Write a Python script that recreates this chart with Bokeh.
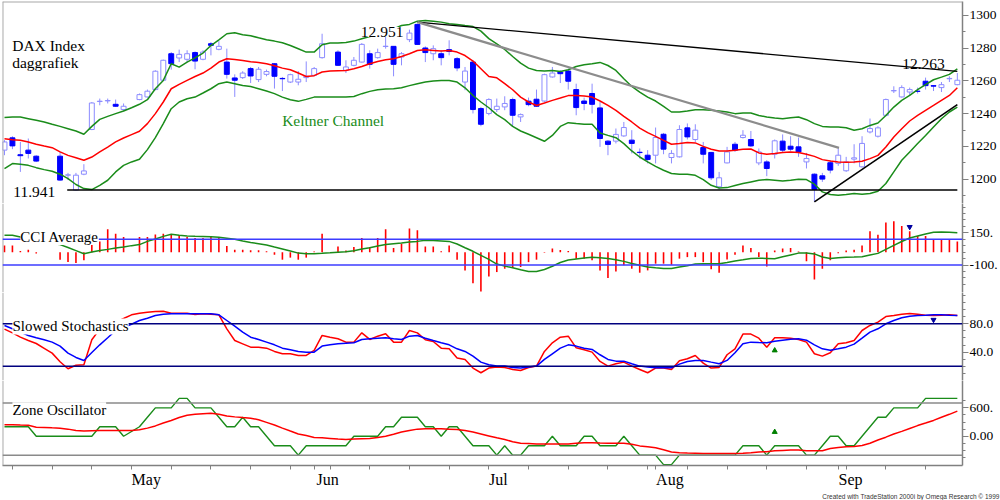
from bokeh.plotting import figure
from bokeh.models import Range1d, FixedTicker, Label, Span, Title
from bokeh.layouts import column
from bokeh.embed import file_html
from bokeh.resources import INLINE

# ---------------- data (one slot per weekday, 7 Apr .. 22 Sep; None = exchange closed) ----------------
opens = [1217.7, 1225.2, 1214.9, 1217.7, 1214.0, None, None, 1214.0, 1202.4, 1193.3,
         1203.0, 1230.3, 1247.4, 1247.8, 1245.7, 1242.5, None, 1248.6, 1250.2, 1254.7,
         1260.4, 1276.6, 1274.0, 1273.2, 1277.3, 1273.2, 1282.7, 1279.3, 1271.5, 1261.8,
         1262.0, 1267.5, 1260.8, 1264.0, 1270.5, 1261.5, 1259.3, 1259.3, 1262.0, 1263.4,
         1274.2, None, 1277.6, 1266.5, 1269.5, 1271.5, 1276.6, 1274.2, 1281.0, 1281.1,
         1274.6, 1285.2, 1294.5, 1280.1, 1276.6, 1276.6, 1279.1, 1273.6, 1259.3, 1271.5,
         1243.1, 1240.1, 1242.5, 1244.1, 1248.6, 1238.0, 1247.6, 1248.8, 1247.7, 1262.4,
         1265.4, 1266.0, 1254.7, 1247.7, 1252.3, 1243.5, 1223.2, 1223.2, 1226.4, 1223.8,
         1216.4, 1214.6, 1214.6, 1227.4, 1213.2, 1213.6, 1231.3, 1224.2, 1219.3, 1216.3,
         1195.3, 1209.9, 1221.3, 1225.4, 1224.2, 1209.9, 1210.5, 1215.2, 1223.2, 1220.1,
         1219.7, 1210.5, 1203.0, 1202.0, 1210.0, 1209.6, 1205.1, 1212.2, 1207.5, 1228.8,
         1226.2, 1239.0, 1253.9, 1250.2, 1253.2, 1253.7, 1259.8, 1257.1, 1255.9, 1261.3,
         1257.7]
highs = [1223.8, 1226.2, 1222.7, 1224.8, 1214.6, None, None, 1216.6, 1203.8, 1203.8,
         1209.1, 1247.1, 1249.2, 1249.2, 1248.6, 1246.2, None, 1252.3, 1254.7, 1266.5,
         1273.0, 1277.6, 1279.1, 1278.7, 1278.0, 1278.7, 1283.7, 1284.3, 1279.7, 1264.0,
         1265.9, 1268.5, 1268.5, 1266.9, 1270.9, 1262.4, 1264.4, 1266.0, 1271.9, 1268.5,
         1288.8, None, 1278.7, 1272.6, 1274.6, 1283.1, 1278.7, 1279.7, 1287.8, 1281.1,
         1277.6, 1291.3, 1295.1, 1281.1, 1281.7, 1278.7, 1284.8, 1274.6, 1268.5, 1272.6,
         1244.1, 1249.4, 1249.2, 1250.6, 1249.8, 1240.1, 1249.8, 1254.7, 1264.4, 1268.5,
         1266.5, 1267.5, 1258.3, 1249.8, 1258.3, 1247.1, 1223.8, 1230.9, 1234.9, 1229.9,
         1218.7, 1217.7, 1231.5, 1228.2, 1217.7, 1232.9, 1234.0, 1233.5, 1222.7, 1216.6,
         1204.4, 1219.7, 1222.7, 1229.9, 1229.4, 1218.7, 1211.6, 1224.2, 1227.3, 1226.2,
         1225.4, 1216.0, 1203.5, 1203.8, 1211.6, 1218.7, 1213.6, 1221.3, 1226.2, 1237.0,
         1232.3, 1249.2, 1256.7, 1257.3, 1255.9, 1255.9, 1262.0, 1257.3, 1259.3, 1262.8,
         1264.8]
lows = [1214.6, 1218.3, 1204.4, 1212.6, 1210.4, None, None, 1199.0, 1199.4, 1192.9,
        1202.4, 1229.9, 1245.1, 1246.2, 1244.1, 1241.6, None, 1248.2, 1249.8, 1254.3,
        1260.4, 1266.9, 1271.5, 1271.5, 1267.1, 1272.6, 1275.6, 1278.7, 1261.4, 1250.2,
        1261.2, 1258.7, 1259.3, 1262.8, 1255.3, 1253.8, 1258.7, 1257.3, 1259.3, 1262.8,
        1273.6, None, 1269.1, 1264.8, 1268.9, 1271.2, 1267.5, 1273.6, 1279.7, 1262.8,
        1269.5, 1283.7, 1282.1, 1271.5, 1272.6, 1269.5, 1275.6, 1265.9, 1254.3, 1240.1,
        1232.3, 1239.0, 1241.0, 1242.1, 1232.3, 1234.9, 1244.5, 1244.1, 1247.1, 1262.0,
        1258.7, 1254.7, 1239.0, 1242.1, 1240.1, 1219.7, 1214.6, 1221.8, 1225.8, 1215.7,
        1212.6, 1209.6, 1209.6, 1215.2, 1209.6, 1213.2, 1224.2, 1222.7, 1209.6, 1199.4,
        1193.7, 1209.6, 1216.6, 1224.8, 1219.7, 1208.5, 1201.8, 1212.6, 1216.0, 1217.2,
        1213.6, 1206.5, 1186.1, 1198.3, 1203.5, 1208.1, 1204.4, 1209.6, 1207.1, 1227.9,
        1225.4, 1238.4, 1252.6, 1249.8, 1251.2, 1252.3, 1254.7, 1253.8, 1253.2, 1259.3,
        1257.3]
closes = [1222.7, 1220.3, 1214.3, 1215.7, 1211.0, None, None, 1199.4, 1202.6, 1202.4,
          1205.0, 1246.5, 1247.6, 1248.0, 1244.5, 1244.5, None, 1251.6, 1253.7, 1265.9,
          1272.6, 1270.5, 1276.2, 1276.6, 1272.1, 1277.6, 1281.7, 1281.1, 1264.0, 1260.4,
          1264.8, 1263.0, 1267.1, 1265.7, 1262.8, 1261.3, 1263.8, 1261.0, 1262.8, 1267.5,
          1282.7, None, 1269.5, 1268.5, 1272.6, 1282.3, 1270.1, 1277.3, 1281.2, 1270.1,
          1276.6, 1289.2, 1282.3, 1277.3, 1279.7, 1274.2, 1278.0, 1267.9, 1266.0, 1242.5,
          1233.5, 1248.6, 1244.5, 1246.2, 1239.0, 1239.4, 1245.5, 1244.5, 1263.8, 1264.8,
          1264.4, 1259.8, 1243.7, 1246.2, 1245.7, 1224.8, 1221.2, 1227.3, 1231.5, 1221.8,
          1216.2, 1212.0, 1225.4, 1218.3, 1215.7, 1230.3, 1225.8, 1229.9, 1215.2, 1200.8,
          1200.8, 1216.6, 1217.7, 1226.8, 1220.3, 1216.6, 1206.5, 1223.4, 1217.7, 1218.3,
          1216.6, 1212.6, 1193.7, 1200.0, 1205.5, 1214.6, 1210.5, 1213.0, 1221.8, 1230.9,
          1231.3, 1248.6, 1254.1, 1255.9, 1254.7, 1253.6, 1257.1, 1256.8, 1257.7, 1261.5,
          1260.4]

kelt_upper = [1237.6, 1237.9, 1237.9, 1236.9, 1235.9, 1234.9, 1233.5, 1232.2, 1230.8, 1229.4,
              1227.4, 1232.2, 1236.5, 1238.3, 1240.0, 1241.6, 1243.6, 1245.7, 1248.5, 1255.2,
              1260.3, 1270.5, 1268.4, 1271.5, 1274.1, 1277.0, 1281.6, 1285.1, 1288.8, 1289.4,
              1288.2, 1287.6, 1286.3, 1285.1, 1284.3, 1283.3, 1281.6, 1279.6, 1277.6, 1277.6,
              1282.1, 1283.1, 1283.1, 1283.5, 1284.3, 1285.7, 1287.1, 1288.2, 1289.8, 1291.8,
              1293.8, 1294.5, 1296.5, 1296.9, 1296.5, 1295.9, 1294.9, 1294.5, 1293.8, 1293.2,
              1290.4, 1285.8, 1282.6, 1279.2, 1274.9, 1270.9, 1267.8, 1266.4, 1266.0, 1266.4,
              1265.8, 1266.8, 1268.8, 1269.9, 1270.5, 1271.3, 1269.4, 1266.4, 1261.3, 1256.6,
              1253.2, 1250.1, 1247.7, 1244.4, 1241.0, 1241.0, 1241.6, 1242.4, 1242.4, 1242.0,
              1241.6, 1241.0, 1240.0, 1240.4, 1240.4, 1238.9, 1237.9, 1237.3, 1236.9, 1237.5,
              1237.9, 1236.3, 1233.9, 1232.2, 1231.8, 1231.8, 1231.4, 1229.8, 1230.8, 1232.8,
              1234.3, 1238.9, 1244.0, 1248.1, 1251.1, 1254.6, 1257.7, 1260.7, 1262.3, 1264.0,
              1267.4]
kelt_mid = [1224.7, 1224.1, 1223.7, 1222.7, 1221.3, 1220.2, 1219.2, 1216.6, 1214.5, 1213.1,
            1211.5, 1213.5, 1216.6, 1219.6, 1222.7, 1225.1, 1227.2, 1229.2, 1233.9, 1240.0,
            1247.1, 1255.2, 1257.9, 1260.3, 1262.7, 1264.8, 1267.8, 1271.5, 1273.5, 1273.1,
            1272.5, 1271.7, 1271.3, 1270.5, 1269.3, 1267.8, 1266.8, 1264.8, 1262.7, 1263.2,
            1265.4, 1266.0, 1266.2, 1266.4, 1267.4, 1268.8, 1270.5, 1271.9, 1272.9, 1273.5,
            1274.9, 1276.6, 1278.6, 1279.0, 1278.6, 1278.2, 1278.6, 1277.6, 1275.5, 1272.1,
            1267.4, 1262.7, 1261.9, 1258.3, 1254.6, 1250.1, 1247.1, 1245.0, 1246.5, 1248.1,
            1249.5, 1251.0, 1251.1, 1250.7, 1250.1, 1247.7, 1245.0, 1242.0, 1238.3, 1234.9,
            1231.2, 1228.4, 1226.1, 1223.7, 1221.3, 1221.7, 1222.3, 1222.1, 1220.0, 1218.2,
            1217.2, 1217.2, 1217.6, 1218.2, 1218.4, 1216.0, 1215.2, 1215.6, 1216.2, 1216.6,
            1216.2, 1215.2, 1213.9, 1211.9, 1211.1, 1210.5, 1210.3, 1210.5, 1210.9, 1212.5,
            1214.5, 1219.6, 1225.7, 1230.8, 1235.5, 1238.9, 1242.0, 1245.0, 1248.1, 1251.1,
            1255.8]
kelt_lower = [1206.4, 1209.5, 1209.1, 1208.4, 1207.0, 1205.8, 1204.8, 1203.0, 1200.3, 1196.7,
              1194.2, 1193.6, 1196.2, 1199.3, 1204.4, 1208.4, 1210.5, 1212.1, 1218.0, 1225.3,
              1233.9, 1243.0, 1247.1, 1249.1, 1250.1, 1252.6, 1255.2, 1258.3, 1259.3, 1258.3,
              1257.2, 1256.6, 1255.2, 1253.8, 1252.2, 1250.1, 1248.5, 1247.5, 1248.7, 1250.1,
              1250.1, 1250.1, 1250.1, 1250.1, 1250.5, 1252.2, 1253.6, 1254.6, 1255.0, 1255.2,
              1255.8, 1257.1, 1258.3, 1259.3, 1259.9, 1260.3, 1260.3, 1259.3, 1255.8, 1251.1,
              1247.1, 1243.6, 1239.4, 1236.3, 1232.2, 1229.4, 1227.4, 1225.3, 1223.1, 1226.7,
              1232.2, 1234.5, 1233.9, 1233.5, 1233.5, 1228.2, 1226.7, 1225.3, 1221.7, 1217.2,
              1213.5, 1210.5, 1207.8, 1205.4, 1203.4, 1203.0, 1203.0, 1202.3, 1199.7, 1196.2,
              1194.6, 1194.8, 1196.1, 1197.3, 1198.3, 1199.3, 1199.7, 1199.3, 1198.9, 1199.3,
              1199.9, 1199.7, 1196.9, 1192.2, 1190.6, 1190.1, 1190.6, 1191.2, 1190.8, 1191.2,
              1192.6, 1197.3, 1204.4, 1211.5, 1216.6, 1221.7, 1226.7, 1231.8, 1236.9, 1241.0,
              1244.0]

# trend lines drawn on the price chart: (start index, start price, end index, end price)
support_line = [7.9, 1193.3, 120.0, 1193.3]
resistance_line = [52.0, 1295.9, 120.0, 1265.8]
down_trend_line = [52.0, 1295.9, 105.1, 1219.1]
up_trend_line = [102.0, 1186.1, 120.0, 1245.5]

cci = [53, 53, 9, 20, -10, None, None, -58, -76, -84,
       -63, 92, 84, 178, 144, 118, None, 118, 118, 137,
       144, 137, 131, 118, 110, 110, 118, 118, 48, 20,
       20, 15, 15, 8, -19, -58, -42, -58, -42, 5,
       144, None, 45, 13, 40, 110, 40, 110, 178, 32,
       66, 183, 170, 45, 45, 8, 53, -58, -141, -240,
       -305, -188, -154, -128, -123, -115, -77, -58, -5, 28,
       18, 10, -50, -50, -63, -141, -201, -149, -102, -128,
       -159, -141, -89, -89, -97, -50, -38, -38, -77, -133,
       -159, -56, -20, 53, 32, -38, -110, 13, 28, 32,
       5, -71, -211, -128, -63, -8, 13, 20, 53, 162,
       136, 230, 240, 204, 162, 126, 126, 100, 100, 100,
       84]
cci_avg = [131, 131, 118, 100, 82, 74, 66, 59, 36, 12,
           -12, 1, 14, 22, 32, 40, 51, 59, 84, 103,
           123, 139, 131, 126, 123, 121, 119, 116, 108, 100,
           87, 76, 66, 56, 40, 25, 9, -7, -12, -12,
           -9, -5, 0, 4, 12, 25, 35, 48, 59, 66,
           71, 79, 84, 92, 90, 87, 84, 64, 35, 7,
           -25, -56, -92, -108, -121, -136, -149, -149, -134, -109,
           -80, -61, -52, -45, -40, -43, -48, -58, -71, -87,
           -101, -115, -121, -126, -127, -115, -105, -92, -90, -90,
           -90, -80, -69, -59, -48, -47, -48, -50, -35, -21,
           -7, -7, -13, -37, -48, -43, -39, -38, -35, -22,
           -9, 22, 53, 83, 110, 126, 142, 155, 157, 155,
           150]

stoch_k = [72.4, 67.2, 61.1, 56.4, 52.2, 45.4, 38.6, 26.4, 16.5, 21.5,
           22.2, 57.4, 72.4, 77.1, 82.3, 87.4, 92.6, 94.9, 96.3, 97.3,
           97.8, 94.9, 94.9, 94.9, 93.1, 94.0, 93.5, 92.6, 72.9, 56.4,
           51.7, 47.0, 47.0, 45.6, 41.0, 37.7, 37.7, 35.3, 35.3, 42.4,
           63.5, 61.1, 58.8, 54.1, 54.1, 67.2, 57.9, 62.5, 65.8, 54.1,
           54.1, 70.5, 67.2, 57.4, 55.0, 45.6, 44.7, 31.6, 29.7, 17.5,
           10.9, 17.5, 18.9, 18.4, 15.6, 14.2, 18.4, 20.3, 41.0, 53.2,
           61.1, 62.5, 46.1, 43.3, 40.0, 26.9, 20.3, 23.6, 25.9, 20.3,
           15.6, 10.9, 17.5, 17.5, 15.6, 27.8, 30.6, 35.3, 24.5, 17.5,
           18.4, 36.3, 44.7, 65.4, 65.4, 59.7, 47.0, 60.2, 60.2, 59.7,
           57.9, 54.1, 37.7, 34.4, 39.1, 51.7, 53.2, 56.4, 70.5, 77.6,
           82.3, 90.2, 91.7, 93.5, 94.5, 93.5, 92.1, 91.7, 92.1, 92.6,
           91.7]
stoch_d = [77.6, 72.9, 68.2, 63.5, 60.2, 57.4, 54.1, 48.5, 38.6, 32.5,
           28.3, 39.5, 50.3, 60.2, 70.5, 75.2, 79.4, 84.6, 87.9, 91.7,
           93.5, 94.0, 94.0, 94.0, 94.0, 94.0, 94.0, 92.6, 84.6, 76.6,
           68.2, 61.1, 57.9, 54.1, 50.3, 45.6, 43.3, 41.0, 40.0, 40.0,
           48.5, 50.3, 51.7, 52.7, 53.2, 57.9, 58.8, 59.7, 60.2, 58.8,
           57.9, 62.5, 63.5, 59.7, 56.4, 53.2, 50.3, 44.7, 41.0, 34.4,
           25.9, 22.2, 20.3, 20.3, 18.4, 17.5, 18.9, 20.3, 29.7, 37.7,
           45.6, 50.3, 48.5, 45.6, 43.8, 36.3, 29.7, 27.3, 27.3, 23.6,
           20.3, 18.9, 17.9, 17.9, 17.9, 23.1, 26.9, 28.3, 28.3, 25.9,
           23.6, 28.3, 39.1, 51.7, 54.1, 53.6, 53.2, 55.5, 56.9, 58.3,
           58.8, 56.9, 50.3, 44.7, 42.8, 44.7, 47.0, 51.3, 59.7, 68.2,
           72.9, 80.0, 84.6, 88.4, 90.7, 91.7, 92.1, 92.6, 92.6, 92.1,
           91.7]

zone = [200, 200, 200, 200, 0, 0, 0, 0, 0, 0,
        0, 0, 200, 200, 200, 0, 100, 200, 400, 600,
        600, 600, 800, 800, 600, 600, 600, 400, 200, 200,
        400, 200, 200, 0, -200, -200, -200, -400, -200, -200,
        -200, -200, -200, -200, 0, 0, 0, 0, 200, 200,
        400, 400, 400, 200, 200, 0, 200, 200, 0, -200,
        -200, -200, -400, -200, -400, -400, -200, -200, -200, 0,
        -200, -200, -200, 0, 0, -200, -200, -200, 0, -200,
        -400, -400, -400, -600, -600, -400, -400, -400, -400, -400,
        -400, -400, -400, -200, -200, -200, -400, -200, -200, -200,
        -200, -400, -400, -200, 0, 0, -200, -200, 0, 200,
        400, 400, 600, 600, 600, 600, 800, 800, 800, 800,
        800]
zone_avg = [245, 245, 238, 232, 191, 184, 177, 171, 150, 123,
            109, 116, 123, 123, 123, 123, 123, 137, 171, 218,
            279, 334, 395, 443, 463, 477, 484, 463, 429, 409,
            395, 382, 348, 293, 238, 171, 109, 48, 14, -27,
            -34, -47, -61, -68, -61, -54, -47, -27, 0, 41,
            89, 123, 150, 157, 157, 157, 150, 143, 123, 89,
            48, 7, -34, -68, -115, -149, -156, -163, -163, -163,
            -163, -163, -149, -136, -136, -143, -149, -149, -149, -170,
            -204, -224, -244, -285, -333, -347, -354, -360, -367, -367,
            -367, -367, -367, -360, -347, -333, -326, -306, -299, -292,
            -292, -306, -306, -306, -258, -237, -224, -217, -197, -149,
            -81, -20, 48, 102, 164, 225, 279, 334, 402, 463,
            531]

# signal arrows: (index, value)
cci_sell_arrow = [114, 196]
stoch_sell_arrow = [117, 85.6]
stoch_buy_arrow = [97, 42.4]
zone_buy_arrow = [97, 90]

month_names = ["May", "Jun", "Jul", "Aug", "Sep"]
month_starts = [16, 39, 61, 82, 105]
week_starts = list(range(1, 121, 5))

price_ticks = [1200, 1220, 1240, 1260, 1280, 1300]
price_labels = ["1200", "1220", "1240", "1260", "1280", "1300"]
cci_ticks = [150, -100]
cci_labels = ["150.", "-100."]
stoch_ticks = [80, 40]
stoch_labels = ["80.0", "40.0"]
zone_ticks = [600, 0]
zone_labels = ["600.", "0.00"]

credit_text = "Created with TradeStation 2000i by Omega Research \u00a9 1999"

# ---------------- styling ----------------
SERIF = "Liberation Serif"
GREEN = "#1a8c1a"
RED = "#ff0000"
BLUE = "#0000ff"
LIGHT = "#8c8cff"
AXIS = "#808080"
W = 1000

n = len(opens)
xr = Range1d(-0.25, 120.65)


def make_fig(h, y0, y1, ticks, labels, minor, top=0, bottom=0, xaxis=False):
    p = figure(width=W, height=h, x_range=xr, y_range=Range1d(y0, y1),
               output_backend="svg", toolbar_location=None,
               y_axis_location="right",
               x_axis_location="below" if xaxis else None,
               min_border_left=2, min_border_right=38,
               min_border_top=top, min_border_bottom=bottom)
    p.title.visible = False
    p.grid.visible = False
    p.outline_line_color = None
    p.background_fill_color = "white"
    p.border_fill_color = "white"
    ax = p.yaxis[0]
    ax.ticker = FixedTicker(ticks=ticks, minor_ticks=minor)
    ax.major_label_overrides = {t: s for t, s in zip(ticks, labels)}
    ax.axis_line_color = AXIS
    ax.axis_line_width = 1.5
    ax.major_tick_line_color = AXIS
    ax.major_tick_out = 6
    ax.major_tick_in = 0
    ax.minor_tick_line_color = AXIS
    ax.minor_tick_out = 3
    ax.minor_tick_in = 0
    ax.major_label_text_font = SERIF
    ax.major_label_text_font_size = "13.5px"
    ax.major_label_text_color = "black"
    ax.major_label_standoff = 1
    p.add_layout(Span(location=-0.22, dimension="height", line_color="#a8a8a8", line_width=1.5))
    return p


def text(p, x, y, s, color="black", align="left", bg=None, size="15px"):
    lab = Label(x=x, y=y, text=s, text_font=SERIF, text_font_size=size,
                text_color=color, text_align=align, text_baseline="alphabetic")
    if bg:
        lab.background_fill_color = bg
        lab.background_fill_alpha = 1.0
    p.add_layout(lab)


# ---------------- price panel ----------------
p1 = make_fig(203, 1185.1, 1308.5, price_ticks, price_labels,
              list(range(1190, 1300, 20)), top=1)
p1.add_layout(Span(location=1308.3, dimension="width", line_color="#a8a8a8", line_width=1.5))

trade = [i for i in range(n) if opens[i] is not None]
up = [i for i in trade if closes[i] >= opens[i]]
dn = [i for i in trade if closes[i] < opens[i]]
p1.segment(x0=trade, y0=[lows[i] for i in trade], x1=trade, y1=[highs[i] for i in trade],
           line_color=LIGHT, line_width=1)
p1.vbar(x=up, width=0.62, bottom=[opens[i] for i in up], top=[closes[i] for i in up],
        fill_color="white", line_color=LIGHT, line_width=1)
p1.vbar(x=dn, width=0.62, bottom=[closes[i] for i in dn], top=[opens[i] for i in dn],
        fill_color=BLUE, line_color=BLUE, line_width=1)

days = list(range(n))
p1.line(days, kelt_upper, line_color=GREEN, line_width=1.5)
p1.line(days, kelt_lower, line_color=GREEN, line_width=1.5)
p1.line(days, kelt_mid, line_color=RED, line_width=1.5)

for seg, col, w in [(support_line, "black", 1.5), (resistance_line, "black", 1.3),
                    (down_trend_line, "#8c8c8c", 2.2), (up_trend_line, "black", 1.6)]:
    p1.line([seg[0], seg[2]], [seg[1], seg[3]], line_color=col, line_width=w)

text(p1, 0.97, 1281.7, "DAX Index", size="15.5px")
text(p1, 0.97, 1271.5, "daggrafiek", size="15.5px")
text(p1, 34.97, 1236.0, "Keltner Channel", color=GREEN, size="15.5px")
text(p1, 50.25, 1289.8, "12.951", align="right", bg="white", size="15.5px")
text(p1, 113.06, 1270.5, "12.263", size="15.5px")
text(p1, 1.1, 1192.2, "11.941", size="15.5px")

# ---------------- CCI panel ----------------
p2 = make_fig(89, -312.5, 377.8, cci_ticks, cci_labels,
              [-250, -200, -150, -50, 0, 50, 100, 200, 250, 300, 350])
p2.add_layout(Span(location=100, dimension="width", line_color="#3c3cff", line_width=1.5))
p2.add_layout(Span(location=-100, dimension="width", line_color="#3c3cff", line_width=1.5))
cx = [i for i in range(n) if cci[i] is not None]
p2.segment(x0=cx, y0=[0] * len(cx), x1=cx, y1=[cci[i] for i in cx], line_color=RED, line_width=1.6)
p2.line(days, cci_avg, line_color=GREEN, line_width=1.5)
p2.scatter([cci_sell_arrow[0]], [cci_sell_arrow[1]], marker="inverted_triangle", size=5,
           color="#0000a0")
text(p2, 2.0, 118, "CCI Average", bg="white")

# ---------------- Stochastics panel ----------------
p3 = make_fig(88, 0, 124.1, stoch_ticks, stoch_labels,
              [0, 10, 20, 30, 50, 60, 70, 90, 100, 110, 120])
p3.add_layout(Span(location=80, dimension="width", line_color="#00007f", line_width=1.5))
p3.add_layout(Span(location=20, dimension="width", line_color="#00007f", line_width=1.5))
p3.line(days, stoch_k, line_color=RED, line_width=1.5)
p3.line(days, stoch_d, line_color=BLUE, line_width=1.5)
p3.scatter([stoch_sell_arrow[0]], [stoch_sell_arrow[1]], marker="inverted_triangle", size=5,
           color="#0000a0")
p3.scatter([stoch_buy_arrow[0]], [stoch_buy_arrow[1]], marker="triangle", size=5, color="#008000")
text(p3, 1.0, 76.2, "Slowed Stochastics", bg="white")

# ---------------- Zone oscillator panel (+ date axis + credit) ----------------
p4 = make_fig(120, -618.4, 1177.6, zone_ticks, zone_labels,
              [-450, -300, -150, 150, 300, 450, 750], bottom=32, xaxis=True)
p4.add_layout(Span(location=700, dimension="width", line_color="#8a8a8a", line_width=1.5))
p4.add_layout(Span(location=-400, dimension="width", line_color="#8a8a8a", line_width=1.5))
p4.line(days, zone, line_color=GREEN, line_width=1.4)
p4.line(days, zone_avg, line_color=RED, line_width=1.5)
p4.scatter([zone_buy_arrow[0]], [zone_buy_arrow[1]], marker="triangle", size=5, color="#008000")
text(p4, 1.0, 551, "Zone Oscillator", bg="white")

label_shift = [1.85, 1.7, 1.2, 1.8, 1.55]
label_x = [m + s for m, s in zip(month_starts, label_shift)]
xa = p4.xaxis[0]
xa.ticker = FixedTicker(ticks=label_x, minor_ticks=sorted(set(week_starts + month_starts)))
xa.major_label_overrides = {x: s for x, s in zip(label_x, month_names)}
xa.axis_line_color = AXIS
xa.axis_line_width = 1.5
xa.major_tick_line_color = None
xa.major_tick_out = 0
xa.major_tick_in = 0
xa.minor_tick_line_color = AXIS
xa.minor_tick_out = 4
xa.minor_tick_in = 0
xa.major_label_text_font = SERIF
xa.major_label_text_font_size = "16px"
xa.major_label_text_line_height = 1.0
xa.major_label_text_color = "black"
xa.major_label_standoff = 1

credit = Title(text=credit_text, align="right", offset=-37, standoff=1,
               text_font="Liberation Sans", text_font_size="6.5px", text_line_height=1.0,
               text_font_style="normal", text_color="#333333")
p4.add_layout(credit, "below")

layout = column(p1, p2, p3, p4)
open("out.html", "w").write(file_html(layout, INLINE))
